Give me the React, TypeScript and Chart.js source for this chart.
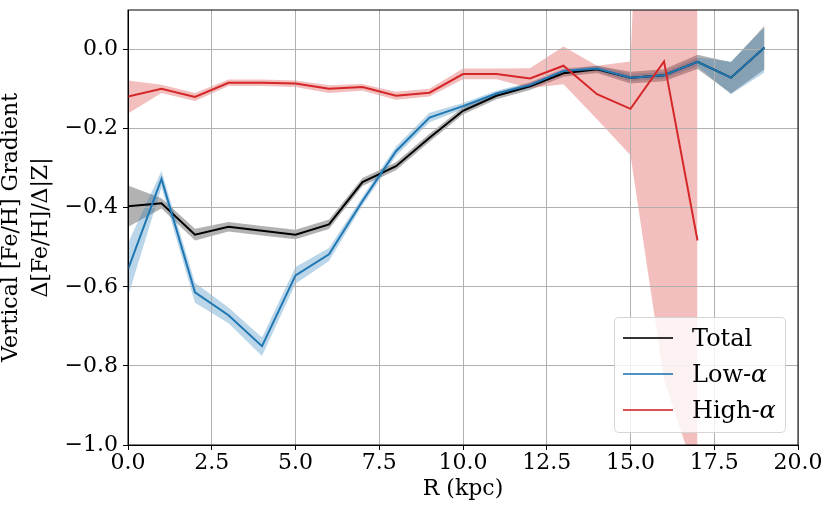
import React, { useEffect, useRef } from 'react';
import Chart from 'chart.js/auto';

// galactocentric radius (kpc)
const radius = [0, 1, 2, 3, 4, 5, 6, 7, 8, 9, 10, 11, 12, 13, 14, 15, 16, 17, 18, 19];

// Total sample
const totalGrad = [-0.396, -0.389, -0.468, -0.448, -0.458, -0.468, -0.442, -0.335, -0.295, -0.223, -0.155, -0.117, -0.093, -0.060, -0.050, -0.071, -0.065, -0.031, -0.071, 0.005];
const totalUpper = [-0.344, -0.376, -0.453, -0.436, -0.446, -0.456, -0.430, -0.325, -0.285, -0.213, -0.146, -0.108, -0.084, -0.051, -0.041, -0.056, -0.050, -0.013, -0.032, 0.060];
const totalLower = [-0.449, -0.402, -0.483, -0.460, -0.470, -0.480, -0.454, -0.345, -0.305, -0.233, -0.164, -0.126, -0.102, -0.069, -0.059, -0.086, -0.080, -0.049, -0.111, -0.050];

// Low-alpha sample
const lowGrad = [-0.556, -0.327, -0.614, -0.672, -0.750, -0.571, -0.518, -0.383, -0.257, -0.172, -0.143, -0.111, -0.090, -0.054, -0.048, -0.071, -0.065, -0.031, -0.071, 0.005];
const lowUpper = [-0.489, -0.307, -0.590, -0.652, -0.728, -0.550, -0.502, -0.372, -0.245, -0.160, -0.135, -0.104, -0.083, -0.047, -0.041, -0.062, -0.057, -0.020, -0.030, 0.055];
const lowLower = [-0.624, -0.349, -0.640, -0.692, -0.775, -0.592, -0.535, -0.394, -0.269, -0.184, -0.151, -0.118, -0.097, -0.061, -0.055, -0.080, -0.073, -0.042, -0.113, -0.058];

// High-alpha sample (0 - 17 kpc)
const highRadius = radius.slice(0, 18);
const highGrad = [-0.119, -0.099, -0.120, -0.084, -0.084, -0.086, -0.099, -0.095, -0.117, -0.109, -0.062, -0.062, -0.073, -0.041, -0.113, -0.150, -0.030, -0.483];
const highUpper = [-0.078, -0.089, -0.110, -0.076, -0.076, -0.078, -0.090, -0.087, -0.107, -0.099, -0.048, -0.048, -0.047, 0.008, -0.041, -0.030, 2.0, 2.0];
const highLower = [-0.162, -0.110, -0.130, -0.092, -0.092, -0.095, -0.110, -0.104, -0.127, -0.119, -0.075, -0.075, -0.097, -0.088, -0.176, -0.267, -0.835, -1.09];

const xTicks = [0, 2.5, 5, 7.5, 10, 12.5, 15, 17.5, 20];
const yTicks = [-1.0, -0.8, -0.6, -0.4, -0.2, 0.0];

const legendItems = [
  { name: 'Total', color: '#000000', alpha: false },
  { name: 'Low-', color: '#1f77b4', alpha: true },
  { name: 'High-', color: '#d62728', alpha: true },
];

const FONT = "'DejaVu Serif', serif";

const pts = (xs: number[], ys: number[]) => ys.map((y, i) => ({ x: xs[i], y }));

const band = (xs: number[], hi: number[], lo: number[], color: string, order: number) => [
  {
    data: pts(xs, hi),
    fill: '+1',
    backgroundColor: color,
    borderColor: 'rgba(0,0,0,0)',
    borderWidth: 0,
    pointRadius: 0,
    order,
  },
  {
    data: pts(xs, lo),
    fill: false,
    borderColor: 'rgba(0,0,0,0)',
    borderWidth: 0,
    pointRadius: 0,
    order,
  },
];

const line = (xs: number[], ys: number[], color: string, order: number) => ({
  data: pts(xs, ys),
  fill: false,
  borderColor: color,
  borderWidth: 2,
  pointRadius: 0,
  tension: 0,
  order,
});

const fmt = (v: number) => {
  const s = Math.abs(v).toFixed(1);
  return v < -1e-9 ? '\u2212' + s : s;
};

// frame on all four sides, like the matplotlib spines
const framePlugin = {
  id: 'frame',
  afterDraw(chart: any) {
    const { ctx, chartArea } = chart;
    ctx.save();
    ctx.strokeStyle = '#000';
    ctx.lineWidth = 1;
    ctx.strokeRect(chartArea.left, chartArea.top, chartArea.right - chartArea.left, chartArea.bottom - chartArea.top);
    ctx.restore();
  },
};

const App: React.FC = () => {
  const canvasRef = useRef<HTMLCanvasElement | null>(null);
  const chartRef = useRef<Chart | null>(null);

  useEffect(() => {
    document.body.style.margin = '0';
    if (!canvasRef.current) return;
    if (chartRef.current) chartRef.current.destroy();

    const ctx = canvasRef.current.getContext('2d');
    if (!ctx) return;

    chartRef.current = new Chart(ctx, {
      type: 'line',
      data: {
        datasets: [
          ...band(radius, totalUpper, totalLower, 'rgba(0,0,0,0.3)', 6),
          line(radius, totalGrad, '#000000', 5),
          ...band(radius, lowUpper, lowLower, 'rgba(31,119,180,0.3)', 4),
          line(radius, lowGrad, '#1f77b4', 3),
          ...band(highRadius, highUpper, highLower, 'rgba(214,39,40,0.3)', 2),
          line(highRadius, highGrad, '#d62728', 1),
        ] as any,
      },
      options: {
        animation: false,
        responsive: true,
        maintainAspectRatio: false,
        layout: { padding: { left: 0, right: 33, top: 10, bottom: 0 } },
        plugins: {
          legend: { display: false },
          tooltip: { enabled: false },
          filler: { drawTime: 'beforeDraw' },
        },
        scales: {
          x: {
            type: 'linear',
            min: 0,
            max: 20,
            afterBuildTicks: (scale: any) => {
              scale.ticks = xTicks.map((value) => ({ value }));
            },
            afterFit: (scale: any) => {
              scale.height = 65;
              scale.paddingLeft = 0;
              scale.paddingRight = 0;
            },
            ticks: {
              callback: (v: any) => Number(v).toFixed(1),
              color: '#000',
              font: { family: FONT, size: 22 },
              padding: 0,
              maxRotation: 0,
            },
            grid: { color: '#b0b0b0', lineWidth: 1, tickColor: '#000', tickLength: 5 },
            border: { display: true, color: '#000', width: 1 },
            title: {
              display: true,
              text: 'R (kpc)',
              color: '#000',
              font: { family: FONT, size: 22 },
              padding: { top: 0, bottom: 8 },
            },
          },
          y: {
            type: 'linear',
            min: -1.0,
            max: 0.1,
            afterBuildTicks: (scale: any) => {
              scale.ticks = yTicks.map((value) => ({ value }));
            },
            afterFit: (scale: any) => {
              scale.width = 128;
              scale.paddingTop = 0;
              scale.paddingBottom = 0;
            },
            ticks: {
              callback: (v: any) => fmt(Number(v)),
              color: '#000',
              font: { family: FONT, size: 22 },
              padding: 5,
            },
            grid: { color: '#b0b0b0', lineWidth: 1, tickColor: '#000', tickLength: 5 },
            border: { display: true, color: '#000', width: 1 },
            title: {
              display: true,
              text: ['Vertical [Fe/H] Gradient', '\u0394[Fe/H]/\u0394|Z|'],
              color: '#000',
              font: { family: FONT, size: 22, lineHeight: 1.38 },
              padding: { top: -4, bottom: 0 },
            },
          },
        },
      },
      plugins: [framePlugin],
    } as any);

    return () => {
      if (chartRef.current) {
        chartRef.current.destroy();
        chartRef.current = null;
      }
    };
  }, []);

  return (
    <div style={{ position: 'relative', width: 831, height: 510 }}>
      <canvas ref={canvasRef} />
      <div
        style={{
          position: 'absolute',
          left: 614,
          top: 317,
          width: 172,
          height: 116,
          boxSizing: 'border-box',
          background: 'rgba(255,255,255,0.8)',
          border: '1px solid rgba(204,204,204,0.8)',
          borderRadius: 5,
          fontFamily: FONT,
          fontSize: 24,
          color: '#000',
        }}
      >
        {legendItems.map((item, i) => (
          <div
            key={item.name}
            style={{
              position: 'absolute',
              left: 8,
              top: 2 + i * 36,
              height: 36,
              display: 'flex',
              alignItems: 'center',
              whiteSpace: 'nowrap',
            }}
          >
            <span
              style={{
                display: 'inline-block',
                width: 50,
                height: 2,
                background: item.color,
                opacity: 0.8,
                marginRight: 19,
              }}
            />
            <span>
              {item.name}
              {item.alpha && <i>α</i>}
            </span>
          </div>
        ))}
      </div>
    </div>
  );
};

export default App;
